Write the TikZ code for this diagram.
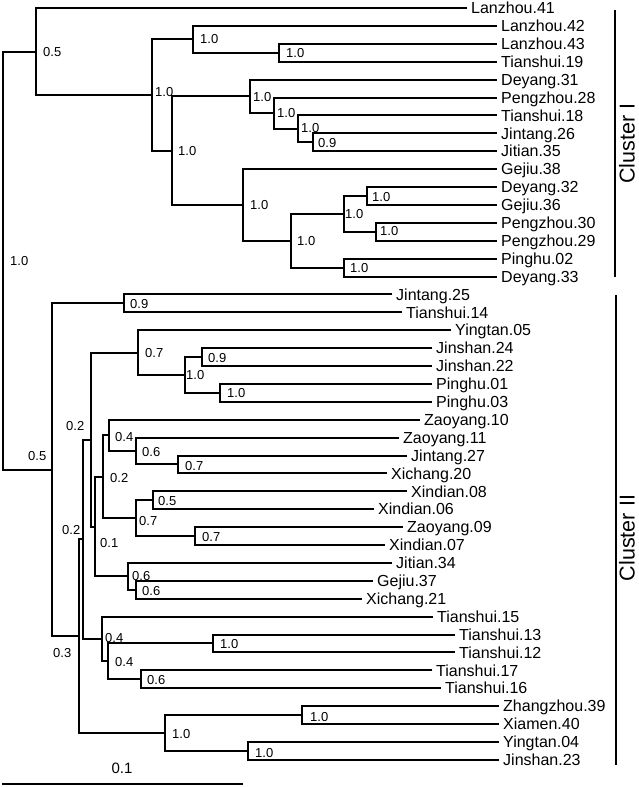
\documentclass[tikz,border=0pt]{standalone}
\usepackage{fontspec}
\setmainfont{Liberation Sans}
\begin{document}
\begin{tikzpicture}[x=1pt,y=-1pt,
  br/.style={draw=black, line width=2pt, line join=miter},
  leaf/.style={anchor=west, inner sep=0pt, font=\fontsize{16}{16}\selectfont, text height=11.4pt, text depth=0pt},
  sup/.style={anchor=west, inner sep=0pt, font=\fontsize{13}{13}\selectfont, text height=9.3pt, text depth=0pt},
  clab/.style={rotate=90, inner sep=0pt, font=\fontsize{21.5}{21.5}\selectfont}]
\useasboundingbox (0,0) rectangle (638,787);
% leaf tips and labels
\foreach \i/\x/\y/\t in {
 0/467/8.0/Lanzhou.41, 1/497/25.9/Lanzhou.42, 2/497/43.8/Lanzhou.43, 3/497/61.7/Tianshui.19,
 4/497/79.6/Deyang.31, 5/497/97.5/Pengzhou.28, 6/497/115.4/Tianshui.18, 7/497/133.3/Jintang.26,
 8/497/151.2/Jitian.35, 9/497/169.1/Gejiu.38, 10/497/187.0/Deyang.32, 11/497/204.9/Gejiu.36,
 12/497/222.8/Pengzhou.30, 13/497/240.7/Pengzhou.29, 14/497/258.6/Pinghu.02, 15/497/276.5/Deyang.33,
 16/392/294.4/Jintang.25, 17/402/312.3/Tianshui.14, 18/451/330.2/Yingtan.05, 19/432/348.1/Jinshan.24,
 20/432/366.0/Jinshan.22, 21/432/383.9/Pinghu.01, 22/432/401.8/Pinghu.03, 23/420/419.7/Zaoyang.10,
 24/399/437.6/Zaoyang.11, 25/407/455.5/Jintang.27, 26/387/473.4/Xichang.20, 27/407/491.3/Xindian.08,
 28/374/509.2/Xindian.06, 29/403/527.1/Zaoyang.09, 30/385/545.0/Xindian.07, 31/392/562.9/Jitian.34,
 32/373/580.8/Gejiu.37, 33/362/598.7/Xichang.21, 34/433/616.6/Tianshui.15, 35/455/634.5/Tianshui.13,
 36/455/652.4/Tianshui.12, 37/432/670.3/Tianshui.17, 38/441/688.2/Tianshui.16, 39/499/706.1/Zhangzhou.39,
 40/499/724.0/Xiamen.40, 41/499/741.9/Yingtan.04, 42/499/759.8/Jinshan.23}
 {\coordinate (t\i) at (\x,\y);
  \node[leaf] (l\i) at ([xshift=4pt]t\i) {\t};}
% internal nodes
\foreach \n/\x/\y in {root/3/260.6, CI/36/51.5, A/152/95.0, B/193/39.3, C/279/52.75, D/172/150.65,
 E/250/96.4, F/274/113.2, G/298/128.8, H/313/142.25, I/243/204.9, J/291/240.7, K/344/213.85,
 L/367/195.95, M/376/231.75, N/344/267.55, P/52/469.7, Q/124/303.35, R/79/636.1, S/83/539.3,
 U/91/439.6, V/138/352.6, W/185/374.95, X/202/357.05, Y/220/392.85, Z/95/526.5, AA/103/476.8,
 AB/109/435.4, AC/136/451.0, AD/178/464.45, AE/136/518.15, AF/153/500.25, AG/195/536.05,
 AH/128/576.3, AI/136/589.75, AJ/102/639.0, AK/108/661.35, AL/213/643.45, AM/141/679.25,
 AN/165/732.95, AO/302/715.05, AP/248/750.85}
 {\coordinate (\n) at (\x,\y);}
% branches
\foreach \n/\a/\b in {root/CI/P, CI/t0/A, A/B/D, B/t1/C, C/t2/t3, D/E/I, E/t4/F, F/t5/G, G/t6/H,
 H/t7/t8, I/t9/J, J/K/N, K/L/M, L/t10/t11, M/t12/t13, N/t14/t15, P/Q/R, Q/t16/t17, R/S/AN,
 S/U/AJ, U/V/Z, V/t18/W, W/X/Y, X/t19/t20, Y/t21/t22, Z/AA/AH, AA/AB/AE, AB/t23/AC, AC/t24/AD,
 AD/t25/t26, AE/AF/AG, AF/t27/t28, AG/t29/t30, AH/t31/AI, AI/t32/t33, AJ/t34/AK, AK/AL/AM,
 AL/t35/t36, AM/t37/t38, AN/AO/AP, AO/t39/t40, AP/t41/t42}
 {\draw[br] (\a) -| (\n) |- (\b);}
% support values
\foreach \n/\x/\y/\v in {root/10/261/1.0, CI/43/52/0.5, A/155/92/1.0, B/200/39/1.0, C/286/53/1.0,
 D/178/151/1.0, E/253/97/1.0, F/277/113/1.0, G/301/128/1.0, H/318/143/0.9, I/250/205/1.0,
 J/297/241/1.0, K/345/214/1.0, L/372/197/1.0, M/380/231/1.0, N/350/268/1.0, P/28/456/0.5,
 Q/130/304/0.9, R/53/653/0.3, S/62/530/0.2, U/66/426/0.2, V/145/353/0.7, W/186/375/1.0,
 X/208/358/0.9, Y/227/393/1.0, Z/100/543/0.1, AA/110/478/0.2, AB/115/437/0.4, AC/142/452/0.6,
 AD/185/466/0.7, AE/139/521/0.7, AF/158/501/0.5, AG/202/537/0.7, AH/132/576/0.6, AI/142/591/0.6,
 AJ/105/638/0.4, AK/115/662/0.4, AL/220/644/1.0, AM/147/680/0.6, AN/172/734/1.0, AO/310/717/1.0,
 AP/255/753/1.0}
 {\node[sup] (s\n) at (\x,\y) {\v};}
% clusters
\coordinate (c1a) at (615,10); \coordinate (c1b) at (615,277);
\draw[br] (c1a) -- (c1b);
\node[clab] (cl1) at (627,143.5) {Cluster I};
\coordinate (c2a) at (616,295); \coordinate (c2b) at (616,765);
\draw[br] (c2a) -- (c2b);
\node[clab] (cl2) at (627,538) {Cluster II};
% scale bar
\coordinate (sb1) at (2,784); \coordinate (sb2) at (243,784);
\draw[br] (sb1) -- (sb2);
\node[inner sep=0pt, font=\fontsize{15}{15}\selectfont, text height=10.7pt, text depth=0pt] (sbl) at (122,768) {0.1};
\end{tikzpicture}
\end{document}
